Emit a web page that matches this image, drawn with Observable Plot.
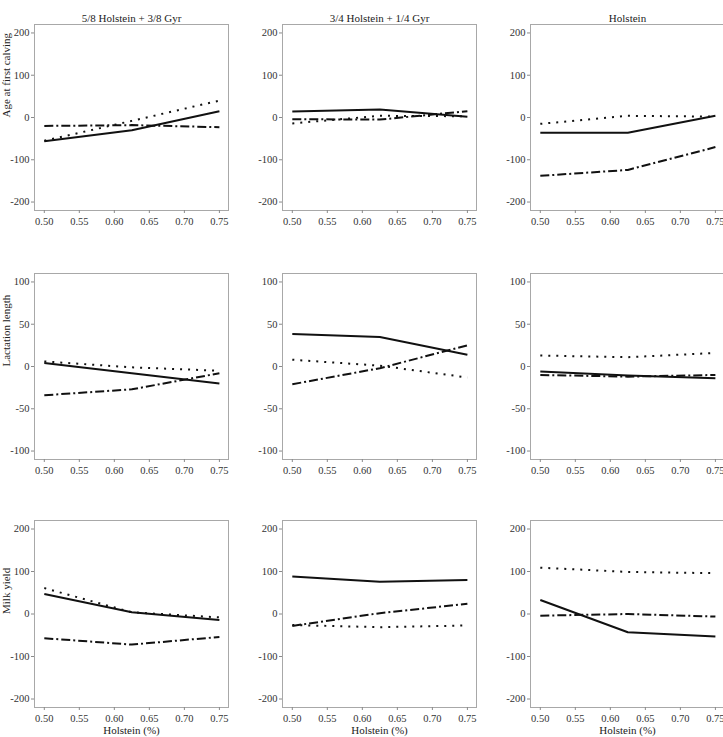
<!DOCTYPE html>
<html>
<head>
<meta charset="utf-8">
<script src="https://cdn.jsdelivr.net/npm/d3@7"></script>
<script src="https://cdn.jsdelivr.net/npm/@observablehq/plot@0.6"></script>
<style>
  body { margin: 0; background: #fff; overflow: hidden; }
  #grid { position: relative; width: 744px; height: 744px; }
  #grid > div, #grid > svg { position: absolute; }
</style>
</head>
<body>
<div id="grid"></div>
<script>
// Proportion of Holstein genes (x axis)
const holstein = [0.5, 0.625, 0.75];
const xTicks = [0.5, 0.55, 0.6, 0.65, 0.7, 0.75];

// Genetic groups (columns) and traits (rows)
const groups = ["5/8 Holstein + 3/8 Gyr", "3/4 Holstein + 1/4 Gyr", "Holstein"];
const traits = ["Age at first calving", "Lactation length", "Milk yield"];
const yTicksWide = [-200, -100, 0, 100, 200];
const yTicksNarrow = [-100, -50, 0, 50, 100];

// Each array: three curves (solid, dotted, dash-dot), values at 0.5, 0.625, 0.75
const ageFiveEighths   = [[-56, -30, 15], [-55, -8, 40], [-20, -18, -23]];
const ageThreeQuarters = [[14, 19, 2], [-14, 4, 3], [-4, -5, 15]];
const ageHolstein      = [[-36, -36, 4], [-15, 4, 2], [-138, -124, -70]];

const lactFiveEighths   = [[4, -8, -20], [6, -1, -5], [-34, -27, -8]];
const lactThreeQuarters = [[38.5, 35, 14], [8, 1, -13], [-21, -2, 25]];
const lactHolstein      = [[-6, -10.5, -14], [13, 11, 16], [-10, -12, -10]];

const milkFiveEighths   = [[47, 4, -14], [61, 4, -8], [-57, -72, -54]];
const milkThreeQuarters = [[88, 76, 80], [-26, -31, -27], [-28, 2, 24]];
const milkHolstein      = [[33, -43, -53], [109, 99, 96], [-4, 0, -6]];

const panels = [
  [ageFiveEighths, ageThreeQuarters, ageHolstein],
  [lactFiveEighths, lactThreeQuarters, lactHolstein],
  [milkFiveEighths, milkThreeQuarters, milkHolstein]
];

// Line styles for the three curves
const dashes = [null, "2,6", "9,3,2,3"];

const cell = 248;
const marginTops = [24, 25, 24];
const marginBottoms = [38, 37, 37];
const grid = document.getElementById("grid");

panels.forEach((row, r) => {
  row.forEach((curves, c) => {
    const rows = [];
    curves.forEach((vals, k) => vals.forEach((v, i) => rows.push({curve: k, x: holstein[i], y: v})));
    const narrow = r === 1;
    const marks = [
      Plot.frame({stroke: "#a8a8a8"}),
      Plot.axisX({ticks: xTicks, tickSize: 3, tickPadding: 4, tickFormat: d3.format(".2f"),
                  stroke: "#8a8a8a", fill: "#333", label: null}),
      Plot.axisY({ticks: narrow ? yTicksNarrow : yTicksWide, tickSize: 3, tickPadding: 2,
                  tickFormat: d => `${d}`, stroke: "#8a8a8a", fill: "#333", label: null}),
      ...dashes.map((dash, k) => Plot.line(rows.filter(d => d.curve === k), {
        x: "x", y: "y", stroke: "#111", strokeWidth: 2,
        strokeDasharray: dash, strokeLinecap: "butt"
      }))
    ];
    if (r === 0) marks.push(Plot.text([groups[c]], {text: d => d, frameAnchor: "top", dy: -10, fontSize: 11, fill: "#222"}));
    if (c === 0) marks.push(Plot.text([traits[r]], {text: d => d, frameAnchor: "left", dx: -28, rotate: -90, fontSize: 11, fill: "#222"}));
    if (r === 2) marks.push(Plot.text(["Holstein (%)"], {text: d => d, frameAnchor: "bottom", dy: 26, fontSize: 11, fill: "#222"}));

    const chart = Plot.plot({
      width: cell,
      height: cell,
      marginLeft: 34,
      marginRight: 20,
      marginTop: marginTops[r],
      marginBottom: marginBottoms[r],
      style: {fontFamily: "'Liberation Serif', 'Times New Roman', serif", fontSize: "10.5px", background: "white", overflow: "visible"},
      x: {domain: [0.486, 0.763]},
      y: {domain: narrow ? [-110, 110] : [-220, 220]},
      marks
    });
    chart.style.left = `${c * cell}px`;
    chart.style.top = `${r * cell}px`;
    grid.appendChild(chart);
  });
});
</script>
</body>
</html>
